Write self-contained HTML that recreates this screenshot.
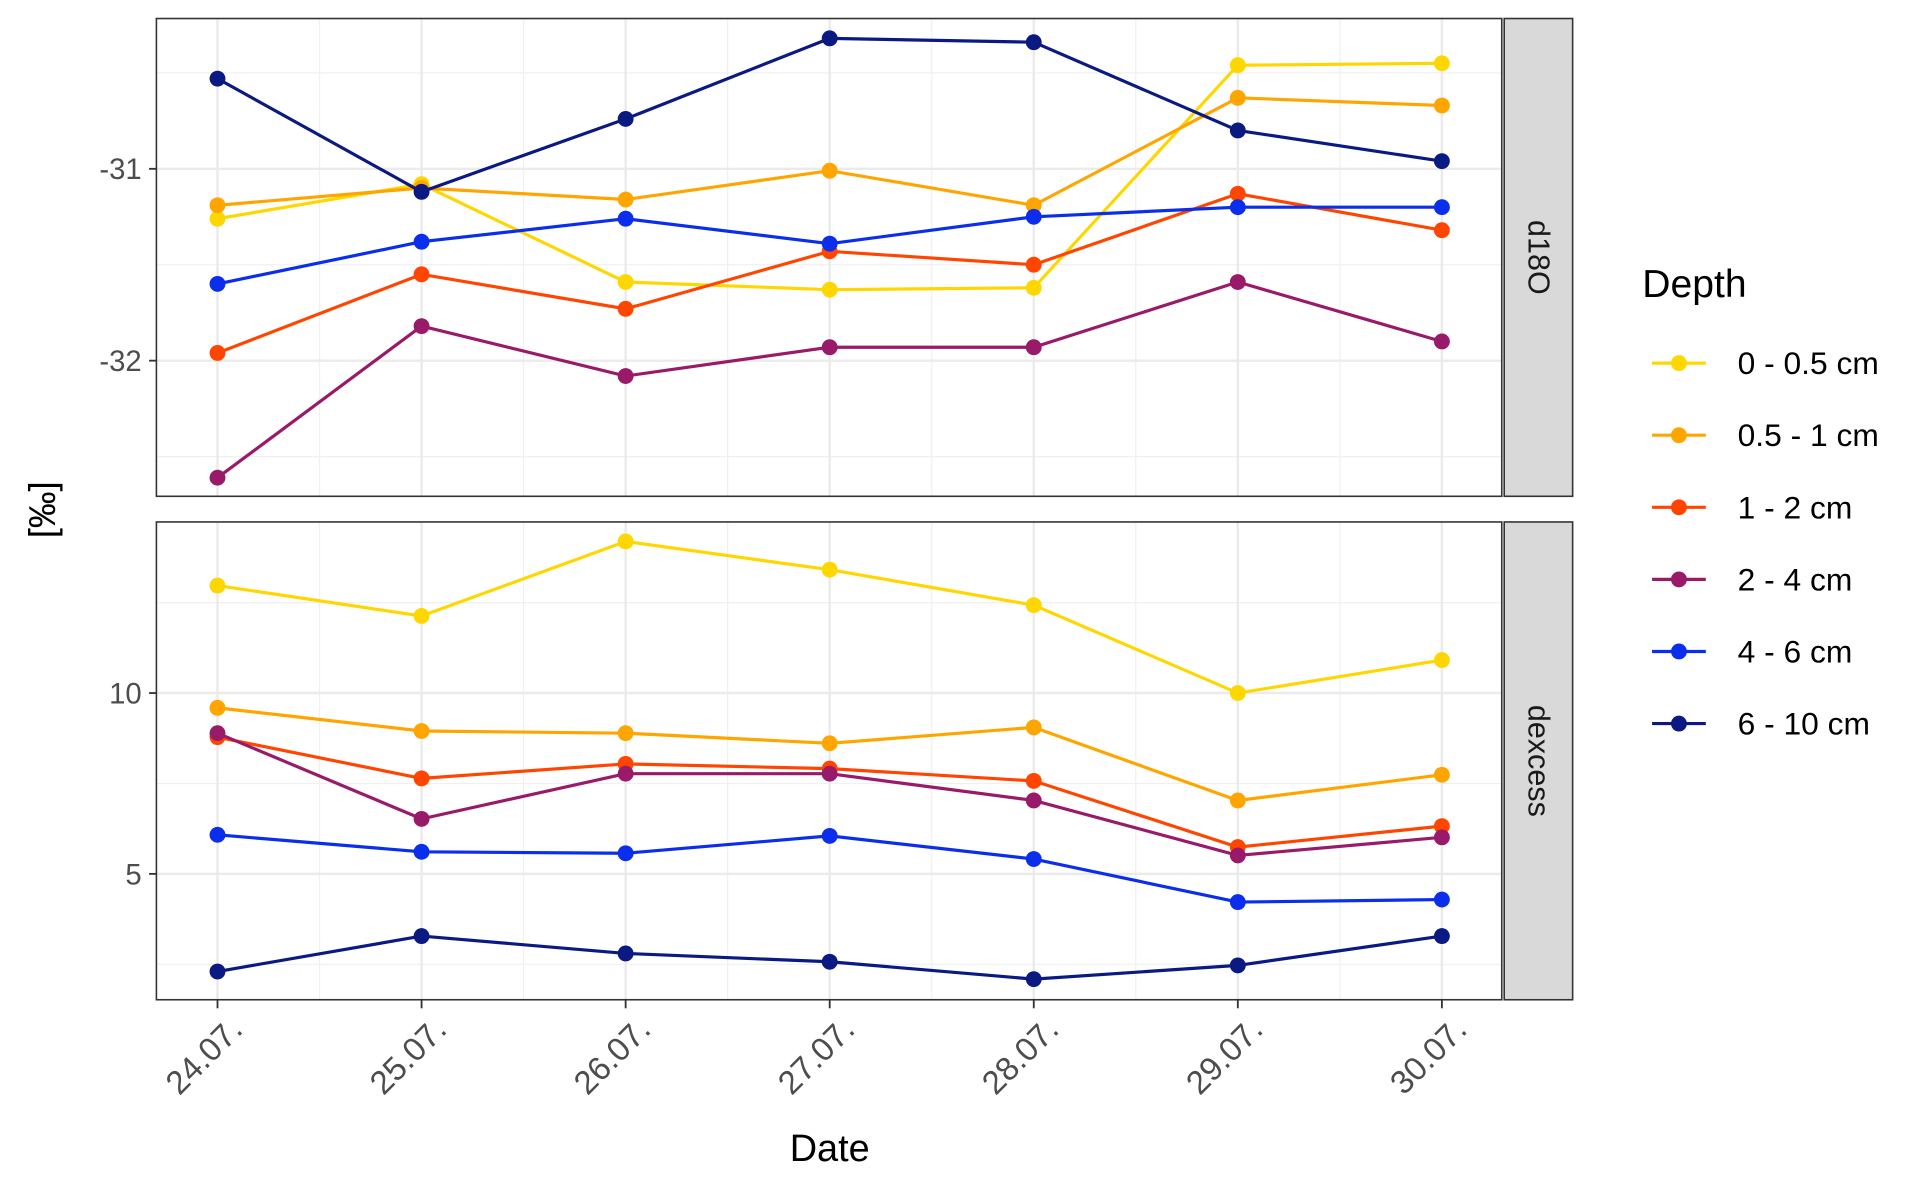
<!DOCTYPE html>
<html><head><meta charset="utf-8"><style>
html,body{margin:0;padding:0;background:#fff;}
svg{display:block;font-family:"Liberation Sans",Arial,sans-serif;}
</style></head><body>
<svg id="chart" width="1916" height="1182" viewBox="0 0 1568 967" xmlns="http://www.w3.org/2000/svg"></svg>
<script>
const dates = ["24.07.","25.07.","26.07.","27.07.","28.07.","29.07.","30.07."];
const depths = ["0 - 0.5 cm","0.5 - 1 cm","1 - 2 cm","2 - 4 cm","4 - 6 cm","6 - 10 cm"];
const colors = ["#FFD700","#FFA500","#FF4500","#9A1A6A","#0A2EEB","#0B1A82"];
const d18oYellow = [-31.26,-31.08,-31.59,-31.63,-31.62,-30.46,-30.45];
const d18oOrange = [-31.19,-31.10,-31.16,-31.01,-31.19,-30.63,-30.67];
const d18oRed = [-31.96,-31.55,-31.73,-31.43,-31.50,-31.13,-31.32];
const d18oPurple = [-32.61,-31.82,-32.08,-31.93,-31.93,-31.59,-31.90];
const d18oBlue = [-31.60,-31.38,-31.26,-31.39,-31.25,-31.20,-31.20];
const d18oNavy = [-30.53,-31.12,-30.74,-30.32,-30.34,-30.80,-30.96];
const dexYellow = [12.97,12.13,14.19,13.41,12.43,10.0,10.91];
const dexOrange = [9.59,8.95,8.89,8.61,9.05,7.03,7.74];
const dexRed = [8.78,7.64,8.04,7.91,7.57,5.74,6.32];
const dexPurple = [8.89,6.52,7.77,7.77,7.03,5.51,6.01];
const dexBlue = [6.08,5.61,5.57,6.05,5.41,4.22,4.29];
const dexNavy = [2.30,3.28,2.80,2.57,2.09,2.47,3.28];
const d18oTicks = [-31,-32];
const d18oMinor = [-30.5,-31.5,-32.5];
const dexTicks = [10,5];
const dexMinor = [12.5,7.5,2.5];

const NS="http://www.w3.org/2000/svg";
const svg=document.getElementById('chart');
function mk(tag,attrs,parent){const e=document.createElementNS(NS,tag);for(const k in attrs)e.setAttribute(k,attrs[k]);(parent||svg).appendChild(e);return e;}
const X0=128,X1=1229;
function xs(i){return 178+i*(1180-178)/(dates.length-1);}
const panels=[
 {name:'d18o',label:'d18O',top:15,bot:406,y:v=>138+(-31-v)*157,ticks:d18oTicks,minor:d18oMinor,series:[d18oYellow,d18oOrange,d18oRed,d18oPurple,d18oBlue,d18oNavy]},
 {name:'dexcess',label:'dexcess',top:427,bot:818,y:v=>567-(v-10)*29.6,ticks:dexTicks,minor:dexMinor,series:[dexYellow,dexOrange,dexRed,dexPurple,dexBlue,dexNavy]}
];
panels.forEach(p=>{
  const g=mk('g',{});
  
  
  mk('rect',{x:X0,y:p.top,width:X1-X0,height:p.bot-p.top,fill:'#fff'},g);
  for(let i=0;i<dates.length-1;i++){const x=(xs(i)+xs(i+1))/2;mk('line',{x1:x,x2:x,y1:p.top,y2:p.bot,stroke:'#f0f0f0','stroke-width':1},g);}
  p.minor.forEach(v=>{const y=p.y(v);mk('line',{x1:X0,x2:X1,y1:y,y2:y,stroke:'#f0f0f0','stroke-width':1},g);});
  dates.forEach((d,i)=>{const x=xs(i);mk('line',{x1:x,x2:x,y1:p.top,y2:p.bot,stroke:'#ebebeb','stroke-width':2},g);});
  p.ticks.forEach(v=>{const y=p.y(v);
    mk('line',{x1:X0,x2:X1,y1:y,y2:y,stroke:'#ebebeb','stroke-width':2},g);
    mk('line',{x1:X0-6,x2:X0,y1:y,y2:y,stroke:'#333','stroke-width':1.5},g);
    const t=mk('text',{x:X0-12,y:y+8.5,'text-anchor':'end','font-size':24,fill:'#4d4d4d'},g);t.textContent=v;
    
    
  });
  p.series.forEach((s,si)=>{
    const pts=s.map((v,i)=>xs(i)+','+p.y(v)).join(' ');
    const l=mk('polyline',{points:pts,fill:'none',stroke:colors[si],'stroke-width':2.6},g);
    
    
    s.forEach((v,i)=>{const c=mk('circle',{cx:xs(i),cy:p.y(v),r:6.5,fill:colors[si]},g);
      
      });
  });
  mk('rect',{x:X0,y:p.top,width:X1-X0,height:p.bot-p.top,fill:'none',stroke:'#333','stroke-width':1.3},g);
  const st=mk('rect',{x:1231,y:p.top,width:56,height:p.bot-p.top,fill:'#d9d9d9',stroke:'#333','stroke-width':1.3},g);
  
  
  const cy=(p.top+p.bot)/2;
  const lt=mk('text',{x:1259,y:cy,'text-anchor':'middle','dominant-baseline':'central','font-size':25,fill:'#1a1a1a',transform:'rotate(90 1259 '+cy+')'},g);
  lt.textContent=p.label;
  
  
});
dates.forEach((d,i)=>{const x=xs(i);
  mk('line',{x1:x,x2:x,y1:818,y2:825,stroke:'#333','stroke-width':1.5});
  const t=mk('text',{x:x+8,y:830,'text-anchor':'end','font-size':27,fill:'#4d4d4d',transform:'rotate(-45 '+(x+8)+' 830)','dominant-baseline':'hanging'});
  t.textContent=d;
  
  
});
const xt=mk('text',{x:679,y:950,'text-anchor':'middle','font-size':31,fill:'#000'});xt.textContent='Date';


const yt=mk('text',{x:45,y:417,'text-anchor':'middle','font-size':30,fill:'#000',transform:'rotate(-90 45 417)'});yt.textContent='[‰]';


const lg=mk('g',{});


const lh=mk('text',{x:1344,y:243,'font-size':32,fill:'#000'},lg);lh.textContent='Depth';


depths.forEach((d,i)=>{const y=297+i*59;
  const e=mk('g',{},lg);
  
  
  mk('line',{x1:1352,x2:1396,y1:y,y2:y,stroke:colors[i],'stroke-width':2.6},e);
  mk('circle',{cx:1374,cy:y,r:6.5,fill:colors[i]},e);
  const t=mk('text',{x:1422,y:y+9,'font-size':26,fill:'#000'},e);t.textContent=d;
});
</script>
</body></html>
